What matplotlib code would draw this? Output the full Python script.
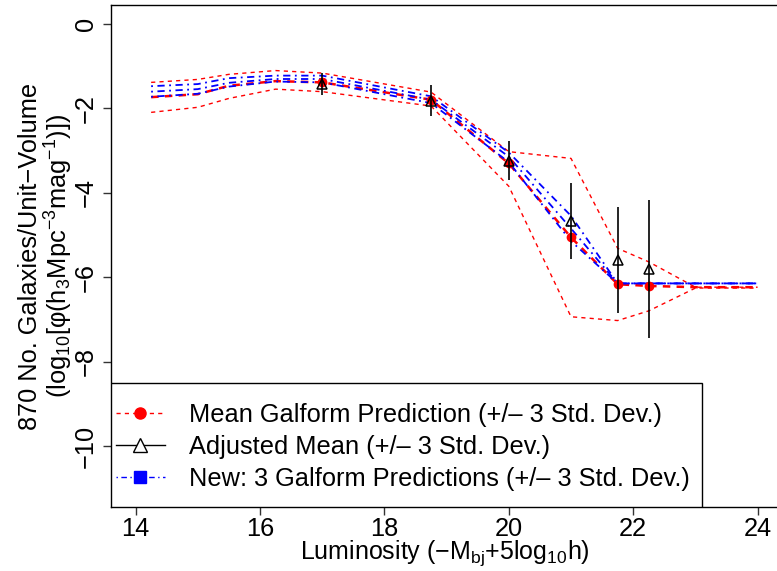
import matplotlib
matplotlib.use("Agg")
import matplotlib.pyplot as plt
from matplotlib.lines import Line2D
from matplotlib.patches import Rectangle

plt.rcParams["font.family"] = ["Liberation Sans", "DejaVu Sans"]
plt.rcParams["mathtext.fontset"] = "custom"
plt.rcParams["mathtext.rm"] = "Liberation Sans"
plt.rcParams["mathtext.it"] = "Liberation Sans:italic"
plt.rcParams["mathtext.bf"] = "Liberation Sans:bold"

# luminosity bins used by the model runs
lum = [14.25, 15.0, 15.5, 16.25, 17.0, 18.75, 20.0, 21.0, 21.75, 22.25, 23.0, 24.0]

# mean galform prediction and its +/- 3 sd envelope
mean_pred = [-1.74, -1.67, -1.47, -1.36, -1.39, -1.80, -3.31, -5.06, -6.17, -6.21, -6.24, -6.24]
mean_upper = [-1.39, -1.32, -1.20, -1.11, -1.17, -1.62, -3.03, -3.19, -5.32, -5.64, -6.24, -6.24]
mean_lower = [-2.10, -1.98, -1.77, -1.55, -1.61, -1.95, -3.85, -6.94, -7.03, -6.80, -6.26, -6.26]

# three new galform predictions
new_upper = [-1.48, -1.43, -1.29, -1.23, -1.23, -1.72, -3.05, -4.55, -6.15, -6.15, -6.15, -6.15]
new_mid = [-1.61, -1.55, -1.40, -1.31, -1.31, -1.80, -3.15, -4.85, -6.15, -6.15, -6.15, -6.15]
new_lower = [-1.73, -1.66, -1.49, -1.37, -1.39, -1.88, -3.28, -5.15, -6.15, -6.15, -6.15, -6.15]

# bins with observations: adjusted mean and 3 sd half-width
obs_lum = [17.0, 18.75, 20.0, 21.0, 21.75, 22.25]
adj_mean = [-1.43, -1.82, -3.24, -4.67, -5.59, -5.81]
adj_err = [0.26, 0.37, 0.47, 0.90, 1.25, 1.63]

legend_labels = [
    "Mean Galform Prediction (+/\u2013 3 Std. Dev.)",
    "Adjusted Mean (+/\u2013 3 Std. Dev.)",
    "New: 3 Galform Predictions (+/\u2013 3 Std. Dev.)",
]

FS = 18.3
W, H = 777, 571
fig = plt.figure(figsize=(W / 100, H / 100), dpi=100)
x0, x1 = 110.7, 782.5
ytop, ybot = 5.1, 506.8
ax = fig.add_axes([x0 / W, (H - ybot) / H, (x1 - x0) / W, (ybot - ytop) / H])

red = "#ff0000"
blue = "#0000ff"
dash = (3, 3)
dotdash = (1, 2.5, 4, 2.5)

ax.plot(lum, mean_upper, color=red, lw=1, dashes=dash)
ax.plot(lum, mean_lower, color=red, lw=1, dashes=dash)
ax.plot(lum, mean_pred, color=red, lw=1.8, dashes=(3, 2.5))
for series in (new_upper, new_mid, new_lower):
    ax.plot(lum, series, color=blue, lw=1.3, dashes=dotdash)

obs_idx = [lum.index(v) for v in obs_lum]
ax.plot(obs_lum, [mean_pred[i] for i in obs_idx], "o", color=red, ms=6, ls="none")
ax.errorbar(obs_lum, adj_mean, yerr=adj_err, fmt="^", mfc="none", mec="black",
            ecolor="black", ms=7, mew=1.1, elinewidth=1.2, capsize=0)

ax.set_xlim(13.6, 24.4)
ax.set_ylim(-11.44, 0.44)
ax.set_xticks(range(14, 25, 2))
ax.set_yticks(range(0, -11, -2))
ax.spines["right"].set_visible(False)
for s in ("left", "bottom", "top"):
    ax.spines[s].set_linewidth(1)
ax.tick_params(axis="both", labelsize=FS, length=6, width=1, color="#333333")
ax.tick_params(axis="x", pad=1)
ax.tick_params(axis="y", pad=3)
for lab in ax.get_yticklabels():
    lab.set_rotation(90)
    lab.set_va("center")

# legend box
ax.add_patch(Rectangle((0, 0), (702 - x0) / (x1 - x0), (ybot - 383) / (ybot - ytop),
                       transform=ax.transAxes, facecolor="white", edgecolor="black",
                       lw=1, zorder=5))
handles = [
    Line2D([], [], color=red, lw=1, dashes=dash, marker="o", ms=8, mfc=red, mec=red),
    Line2D([], [], color="black", lw=1, marker="^", ms=10, mfc="white", mec="black"),
    Line2D([], [], color=blue, lw=1, dashes=dotdash, marker="s", ms=8.5, mfc=blue, mec=blue),
]
leg = ax.legend(handles, legend_labels, loc="center left",
                bbox_to_anchor=(103 / W, (H - 447) / H), bbox_transform=fig.transFigure,
                frameon=False, fontsize=FS, borderpad=0, handlelength=1.95,
                handletextpad=0.95, labelspacing=0.33)
leg.set_zorder(6)

fig.text(445 / W, 1 - 553 / H,
         "Luminosity (\u2212M$_{\\mathrm{bj}}$+5log$_{\\mathrm{10}}$h)",
         ha="center", va="center", fontsize=18)
fig.text(30 / W, 1 - 256 / H, "870 No. Galaxies/Unit\u2212Volume",
         rotation=90, ha="center", va="center", fontsize=FS)
fig.text(59 / W, 1 - 256 / H,
         "(log$_{\\mathrm{10}}$[\u03c6(h$_{\\mathrm{3}}$Mpc$^{\\mathrm{-3}}$mag$^{\\mathrm{-1}}$)])",
         rotation=90, ha="center", va="center", fontsize=FS)

fig.savefig("out.png", dpi=100)
